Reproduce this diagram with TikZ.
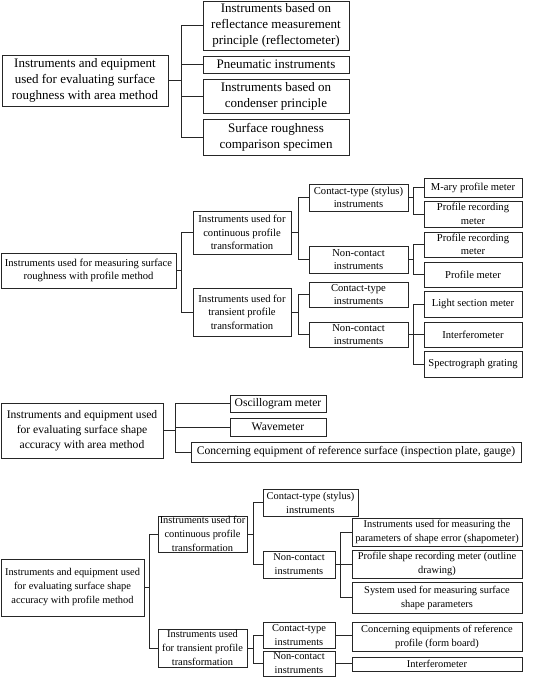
\documentclass[tikz,border=0pt]{standalone}
\usepackage{fontspec}
\setmainfont{Liberation Serif}
\begin{document}
\begin{tikzpicture}[x=1pt,y=-1pt,
  bx/.style={draw=black!85, line width=0.7pt, inner sep=0pt, align=center},
  ln/.style={draw=black!85, line width=0.7pt},
  sa/.style={font=\fontsize{13}{16}\selectfont},
  sb/.style={font=\fontsize{10.6}{13.5}\selectfont},
  sc/.style={font=\fontsize{11.6}{15}\selectfont},
  sd/.style={font=\fontsize{10.4}{14}\selectfont}]
\useasboundingbox (0,0) rectangle (545,677);

% ---------- Section 1 ----------
\node[bx,sa,minimum width=166pt,minimum height=51pt] (r1) at (85,80.5) {Instruments and equipment\\used for evaluating surface\\roughness with area method};
\node[bx,sa,minimum width=146pt,minimum height=49pt] (a1) at (276,25.5) {Instruments based on\\reflectance measurement\\principle (reflectometer)};
\node[bx,sa,minimum width=146pt,minimum height=17pt] (a2) at (276,64.5) {Pneumatic instruments};
\node[bx,sa,minimum width=146pt,minimum height=34pt] (a3) at (276,96) {Instruments based on\\condenser principle};
\node[bx,sa,minimum width=146pt,minimum height=36pt] (a4) at (276,137) {Surface roughness\\comparison specimen};
\coordinate (j1) at (181,0);
\draw[ln] (r1.east) -- (r1.east -| j1);
\draw[ln] (j1 |- a1.west) -- (j1 |- a4.west);
\foreach \n in {a1,a2,a3,a4} \draw[ln] (j1 |- \n.west) -- (\n.west);

% ---------- Section 2 ----------
\node[bx,sb,minimum width=175pt,minimum height=35pt] (r2) at (88.5,270.5) {Instruments used for measuring surface\\roughness with profile method};
\node[bx,sb,minimum width=98pt,minimum height=43pt] (b1) at (242,232.5) {Instruments used for\\continuous profile\\transformation};
\node[bx,sb,minimum width=98pt,minimum height=48pt] (b2) at (242,312) {Instruments used for\\transient profile\\transformation};
\node[bx,sb,minimum width=99pt,minimum height=27pt] (c1) at (358.5,197.5) {Contact-type (stylus)\\instruments};
\node[bx,sb,minimum width=99pt,minimum height=27pt] (c2) at (358.5,259.5) {Non-contact\\instruments};
\node[bx,sb,minimum width=99pt,minimum height=25pt] (c3) at (358.5,294.5) {Contact-type\\instruments};
\node[bx,sb,minimum width=99pt,minimum height=25pt] (c4) at (358.5,334.5) {Non-contact\\instruments};
\node[bx,sb,minimum width=98pt,minimum height=19pt] (d1) at (473,187.5) {M-ary profile meter};
\node[bx,sb,minimum width=98pt,minimum height=26pt] (d2) at (473,214) {Profile recording\\meter};
\node[bx,sb,minimum width=98pt,minimum height=25pt] (d3) at (473,244.5) {Profile recording\\meter};
\node[bx,sb,minimum width=98pt,minimum height=25pt] (d4) at (473,274.5) {Profile meter};
\node[bx,sb,minimum width=98pt,minimum height=26pt] (d5) at (473,304) {Light section meter};
\node[bx,sb,minimum width=98pt,minimum height=25pt] (d6) at (473,334.5) {Interferometer};
\node[bx,sb,minimum width=98pt,minimum height=26pt] (d7) at (473,364) {Spectrograph grating};
\coordinate (j2) at (181,0);
\coordinate (k2) at (298,0);
\coordinate (m2) at (413,0);
\draw[ln] (r2.east) -- (r2.east -| j2);
\draw[ln] (j2 |- b1.west) -- (j2 |- b2.west);
\foreach \n in {b1,b2} \draw[ln] (j2 |- \n.west) -- (\n.west);
\draw[ln] (b1.east) -- (b1.east -| k2);
\draw[ln] (k2 |- c1.west) -- (k2 |- c2.west);
\foreach \n in {c1,c2} \draw[ln] (k2 |- \n.west) -- (\n.west);
\draw[ln] (b2.east) -- (b2.east -| k2);
\draw[ln] (k2 |- c3.west) -- (k2 |- c4.west);
\foreach \n in {c3,c4} \draw[ln] (k2 |- \n.west) -- (\n.west);
\draw[ln] (c1.east) -- (c1.east -| m2);
\draw[ln] (m2 |- d1.west) -- (m2 |- d2.west);
\foreach \n in {d1,d2} \draw[ln] (m2 |- \n.west) -- (\n.west);
\draw[ln] (c2.east) -- (c2.east -| m2);
\draw[ln] (m2 |- d3.west) -- (m2 |- d4.west);
\foreach \n in {d3,d4} \draw[ln] (m2 |- \n.west) -- (\n.west);
\draw[ln] (c4.east) -- (c4.east -| m2);
\draw[ln] (m2 |- d5.west) -- (m2 |- d7.west);
\foreach \n in {d5,d6,d7} \draw[ln] (m2 |- \n.west) -- (\n.west);

% ---------- Section 3 ----------
\node[bx,sc,minimum width=162pt,minimum height=55pt] (r3) at (82,430.5) {Instruments and equipment used\\for evaluating surface shape\\accuracy with area method};
\node[bx,sc,minimum width=96pt,minimum height=17pt] (e1) at (278,403.5) {Oscillogram meter};
\node[bx,sc,minimum width=96pt,minimum height=18pt] (e2) at (278,427) {Wavemeter};
\node[bx,sc,minimum width=330pt,minimum height=20pt] (e3) at (356,452) {Concerning equipment of reference surface (inspection plate, gauge)};
\coordinate (j3) at (175,0);
\draw[ln] (r3.east) -- (r3.east -| j3);
\draw[ln] (j3 |- e1.west) -- (j3 |- e3.west);
\foreach \n in {e1,e2,e3} \draw[ln] (j3 |- \n.west) -- (\n.west);

% ---------- Section 4 ----------
\node[bx,sd,minimum width=143pt,minimum height=57pt] (r4) at (72.5,587.5) {Instruments and equipment used\\for evaluating surface shape\\accuracy with profile method};
\node[bx,sd,minimum width=89pt,minimum height=36pt] (f1) at (202.5,534) {Instruments used for\\continuous profile\\transformation};
\node[bx,sd,minimum width=89pt,minimum height=38pt] (f2) at (202.5,648) {Instruments used\\for transient profile\\transformation};
\node[bx,sd,minimum width=95pt,minimum height=27pt] (g1) at (310.5,502.5) {Contact-type (stylus)\\instruments};
\node[bx,sd,minimum width=72pt,minimum height=27pt] (g2) at (299,564.5) {Non-contact\\instruments};
\node[bx,sd,minimum width=72pt,minimum height=26pt] (g3) at (299,635) {Contact-type\\instruments};
\node[bx,sd,minimum width=72pt,minimum height=25pt] (g4) at (299,663.5) {Non-contact\\instruments};
\node[bx,sd,minimum width=170pt,minimum height=28pt] (h1) at (437,532) {Instruments used for measuring the\\parameters of shape error (shapometer)};
\node[bx,sd,minimum width=170pt,minimum height=28pt] (h2) at (437,564) {Profile shape recording meter (outline\\drawing)};
\node[bx,sd,minimum width=170pt,minimum height=31pt] (h3) at (437,597.5) {System used for measuring surface\\shape parameters};
\node[bx,sd,minimum width=170pt,minimum height=29pt] (h4) at (437,636.5) {Concerning equipments of reference\\profile (form board)};
\node[bx,sd,minimum width=170pt,minimum height=14pt] (h5) at (437,664) {Interferometer};
\coordinate (j4) at (149,0);
\coordinate (n4) at (253,0);
\coordinate (p4) at (340,0);
\draw[ln] (r4.east) -- (r4.east -| j4);
\draw[ln] (j4 |- f1.west) -- (j4 |- f2.west);
\foreach \n in {f1,f2} \draw[ln] (j4 |- \n.west) -- (\n.west);
\draw[ln] (f1.east) -- (f1.east -| n4);
\draw[ln] (n4 |- g1.west) -- (n4 |- g2.west);
\foreach \n in {g1,g2} \draw[ln] (n4 |- \n.west) -- (\n.west);
\draw[ln] (f2.east) -- (f2.east -| n4);
\draw[ln] (n4 |- g3.west) -- (n4 |- g4.west);
\foreach \n in {g3,g4} \draw[ln] (n4 |- \n.west) -- (\n.west);
\draw[ln] (g2.east) -- (g2.east -| p4);
\draw[ln] (p4 |- h1.west) -- (p4 |- h3.west);
\foreach \n in {h1,h2,h3} \draw[ln] (p4 |- \n.west) -- (\n.west);
\draw[ln] (g3.east) -- (g3.east -| h4.west);
\draw[ln] (g4.east) -- (g4.east -| h5.west);
\end{tikzpicture}
\end{document}
